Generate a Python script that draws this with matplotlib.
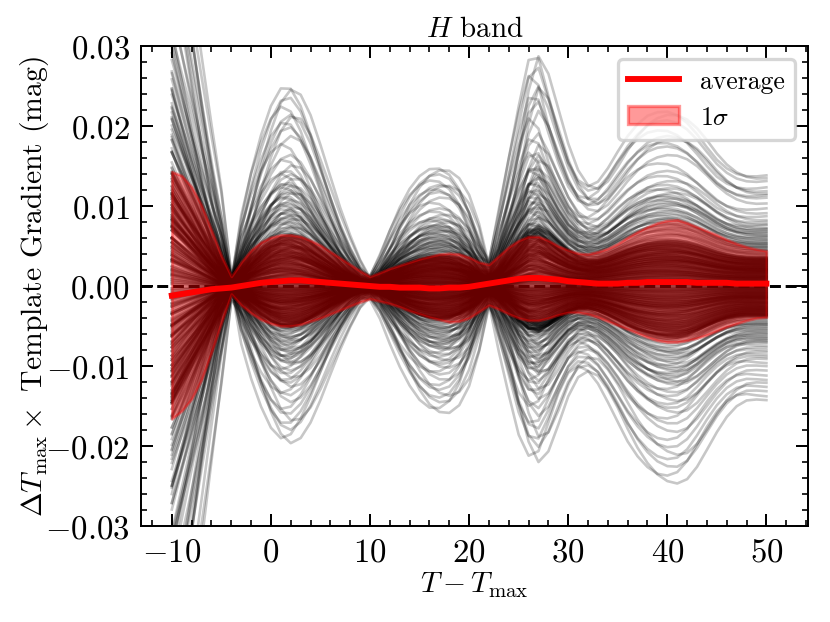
import numpy as np
import matplotlib
matplotlib.use("Agg")
import matplotlib.pyplot as plt
from matplotlib.lines import Line2D
from matplotlib.patches import Patch
from matplotlib.ticker import MultipleLocator

# phase grid (days from maximum)
phase = list(range(-10, 51))

# template gradient of the largest "upper" and "lower" curves (mag), one value per day
profile_up = [0.052, 0.043, 0.034, 0.025, 0.0165, 0.0085, 0.0011, 0.0065, 0.0125, 0.0175,
              0.0215, 0.0242, 0.0248, 0.0232, 0.0200, 0.0160, 0.0120, 0.0082, 0.0050, 0.0024,
              0.0012, 0.0030, 0.0060, 0.0090, 0.0115, 0.0133, 0.0144, 0.0147, 0.0142, 0.0127,
              0.0100, 0.0062, 0.0030, 0.0075, 0.0140, 0.0205, 0.0270, 0.0288, 0.0250, 0.0205,
              0.0165, 0.0138, 0.0126, 0.0128, 0.0142, 0.0162, 0.0182, 0.0198, 0.0210, 0.0216,
              0.0218, 0.0215, 0.0207, 0.0194, 0.0178, 0.0162, 0.0150, 0.0142, 0.0138, 0.0137,
              0.0138]
profile_dn = [-0.058, -0.048, -0.038, -0.028, -0.018, -0.0085, -0.0011, -0.0050, -0.0095, -0.0135,
              -0.0168, -0.0190, -0.0195, -0.0183, -0.0160, -0.0130, -0.0098, -0.0068, -0.0042, -0.0022,
              -0.0016, -0.0030, -0.0058, -0.0088, -0.0115, -0.0137, -0.0152, -0.0158, -0.0155, -0.0140,
              -0.0110, -0.0065, -0.0025, -0.0060, -0.0110, -0.0165, -0.0205, -0.0218, -0.0195, -0.0160,
              -0.0128, -0.0110, -0.0108, -0.0118, -0.0138, -0.0162, -0.0188, -0.0210, -0.0227, -0.0239,
              -0.0245, -0.0245, -0.0236, -0.0218, -0.0196, -0.0175, -0.0158, -0.0147, -0.0142, -0.0142,
              -0.0143]

# per-object scale (relative to the profile) and timing offset (days)
amp_up = [1.00, 0.98, 0.95, 0.89, 0.86, 0.84, 0.82, 0.80, 0.75, 0.70,
          0.66, 0.63, 0.60, 0.58, 0.56, 0.55, 0.53, 0.52, 0.51, 0.50,
          0.49, 0.48, 0.47, 0.46, 0.45, 0.44, 0.43, 0.42, 0.41, 0.40,
          0.39, 0.385, 0.38, 0.37, 0.36, 0.355, 0.35, 0.34, 0.33, 0.325,
          0.32, 0.31, 0.30, 0.295, 0.29, 0.28, 0.27, 0.265, 0.26, 0.255,
          0.25, 0.245, 0.24, 0.235, 0.23, 0.225, 0.22, 0.215, 0.21, 0.205,
          0.20, 0.195, 0.19, 0.185, 0.18, 0.175, 0.17, 0.165, 0.16, 0.155,
          0.15, 0.145, 0.14, 0.135, 0.13, 0.125, 0.12, 0.115, 0.11, 0.105,
          0.10, 0.095, 0.09, 0.085, 0.08, 0.075, 0.07, 0.065, 0.06, 0.055,
          0.05, 0.045, 0.04, 0.035, 0.03, 0.025, 0.02, 0.015, 0.01, 0.005]
shift_up = [0.3, -0.5, 0.1, 0.6, -0.2, -0.7, 0.4, 0.0, -0.4, 0.7,
            -0.1, 0.5, -0.6, 0.2, -0.3, 0.8, -0.8, 0.1, 0.4, -0.5,
            0.6, -0.2, 0.0, -0.7, 0.3, 0.5, -0.4, 0.2, -0.1, 0.7,
            -0.6, 0.4, -0.3, 0.1, 0.6, -0.5, 0.0, 0.3, -0.8, 0.5,
            -0.2, 0.7, -0.4, 0.2, -0.6, 0.1, 0.4, -0.1, 0.6, -0.3,
            0.0, 0.5, -0.7, 0.3, -0.2, 0.8, -0.5, 0.1, 0.4, -0.4,
            0.2, -0.6, 0.6, -0.1, 0.3, -0.3, 0.7, -0.5, 0.0, 0.5,
            -0.2, 0.4, -0.7, 0.1, 0.6, -0.4, 0.2, -0.1, 0.3, -0.6,
            0.5, 0.0, -0.3, 0.7, -0.5, 0.2, 0.4, -0.8, 0.1, -0.2,
            0.6, -0.4, 0.3, -0.1, 0.5, -0.6, 0.0, 0.2, -0.3, 0.4]
amp_dn = [1.00, 0.96, 0.92, 0.88, 0.85, 0.82, 0.78, 0.74, 0.70, 0.67,
          0.64, 0.62, 0.60, 0.58, 0.56, 0.54, 0.52, 0.50, 0.49, 0.48,
          0.47, 0.46, 0.45, 0.44, 0.43, 0.42, 0.41, 0.40, 0.39, 0.38,
          0.37, 0.36, 0.35, 0.34, 0.335, 0.33, 0.32, 0.31, 0.30, 0.29,
          0.28, 0.275, 0.27, 0.265, 0.26, 0.255, 0.25, 0.245, 0.24, 0.235,
          0.23, 0.225, 0.22, 0.215, 0.21, 0.205, 0.20, 0.195, 0.19, 0.185,
          0.18, 0.175, 0.17, 0.165, 0.16, 0.155, 0.15, 0.145, 0.14, 0.135,
          0.13, 0.125, 0.12, 0.115, 0.11, 0.105, 0.10, 0.095, 0.09, 0.085,
          0.08, 0.075, 0.07, 0.065, 0.06, 0.055, 0.05, 0.045, 0.04, 0.035,
          0.03, 0.025, 0.02, 0.015, 0.01, 0.005]
shift_dn = [-0.4, 0.6, -0.1, 0.3, -0.7, 0.2, 0.5, -0.3, 0.0, 0.7,
            -0.5, 0.1, 0.4, -0.6, 0.3, -0.2, 0.8, -0.4, 0.1, -0.8,
            0.5, -0.1, 0.2, 0.6, -0.5, 0.0, -0.3, 0.7, -0.6, 0.4,
            0.1, -0.2, 0.5, -0.7, 0.3, 0.0, -0.4, 0.6, -0.1, 0.2,
            -0.5, 0.8, -0.3, 0.4, -0.6, 0.1, 0.3, -0.2, 0.7, -0.4,
            0.0, 0.5, -0.8, 0.2, -0.1, 0.6, -0.3, 0.4, -0.5, 0.1,
            0.3, -0.6, 0.7, -0.2, 0.0, 0.5, -0.4, 0.2, -0.7, 0.6,
            -0.1, 0.3, -0.5, 0.4, 0.1, -0.3, 0.8, -0.6, 0.2, 0.0,
            -0.2, 0.5, -0.4, 0.6, -0.1, 0.3, -0.7, 0.1, 0.4, -0.5,
            0.2, -0.3, 0.5, 0.0, -0.2, 0.3]

# the many small-amplitude objects inside the 1-sigma band (sign picks the profile)
core_amp = [0.250, -0.240, 0.010, -0.020, 0.180, -0.150, 0.090, -0.060, 0.230, -0.210,
            0.040, -0.110, 0.140, -0.250, 0.070, -0.030, 0.200, -0.180, 0.120, -0.080,
            0.220, -0.130, 0.030, -0.230, 0.160, -0.050, 0.100, -0.200, 0.060, -0.140,
            0.190, -0.010, 0.080, -0.170, 0.240, -0.090, 0.130, -0.260, 0.020, -0.120,
            0.170, -0.070, 0.210, -0.190, 0.050, -0.040, 0.150, -0.220, 0.110, -0.100,
            0.255, -0.245, 0.015, -0.025, 0.185, -0.155, 0.095, -0.065, 0.235, -0.215,
            0.045, -0.115, 0.145, -0.255, 0.075, -0.035, 0.205, -0.185, 0.125, -0.085,
            0.225, -0.135, 0.035, -0.235, 0.165, -0.055, 0.105, -0.205, 0.065, -0.145,
            0.195, -0.015, 0.085, -0.175, 0.245, -0.095, 0.135, -0.265, 0.025, -0.125,
            0.175, -0.075, 0.215, -0.195, 0.055, -0.045, 0.155, -0.225, 0.115, -0.105,
            0.260, -0.250, 0.005, -0.030, 0.170, -0.160, 0.085, -0.070, 0.240, -0.200,
            0.035, -0.105, 0.150, -0.245, 0.080, -0.020, 0.195, -0.175, 0.130, -0.090,
            0.215, -0.140, 0.025, -0.220, 0.155, -0.060, 0.110, -0.210, 0.070, -0.150,
            0.185, -0.005, 0.090, -0.165, 0.230, -0.100, 0.140, -0.255, 0.030, -0.110,
            0.165, -0.080, 0.205, -0.190, 0.060, -0.050, 0.145, -0.230, 0.120, -0.095]
core_shift = [0.2, -0.6, 0.5, -0.1, 0.7, -0.4, 0.0, 0.3, -0.7, 0.4,
              -0.3, 0.6, -0.5, 0.1, 0.8, -0.2, 0.4, -0.8, 0.2, -0.1,
              0.5, -0.4, 0.3, -0.6, 0.0, 0.7, -0.3, 0.1, -0.5, 0.6,
              -0.7, 0.2, -0.2, 0.5, -0.4, 0.3, 0.8, -0.1, 0.4, -0.6,
              0.1, -0.3, 0.6, -0.8, 0.2, 0.0, -0.5, 0.7, -0.2, 0.3,
              -0.4, 0.5, 0.0, 0.6, -0.7, 0.2, -0.1, 0.4, 0.3, -0.5,
              0.7, -0.2, 0.1, -0.6, 0.5, -0.3, 0.8, 0.0, -0.4, 0.2,
              -0.1, 0.4, -0.8, 0.3, 0.6, -0.5, 0.2, -0.7, 0.1, 0.5,
              0.0, -0.6, 0.7, -0.2, -0.4, 0.6, -0.3, 0.5, -0.1, 0.8,
              0.3, -0.7, 0.4, 0.1, -0.5, 0.2, 0.6, -0.4, 0.0, -0.2,
              -0.5, 0.1, -0.3, 0.7, 0.2, -0.6, 0.4, -0.1, 0.5, -0.8,
              0.6, 0.0, -0.4, 0.3, -0.2, 0.8, -0.7, 0.2, -0.5, 0.1,
              -0.2, 0.7, 0.1, -0.5, 0.4, -0.1, 0.3, -0.6, 0.6, 0.0,
              0.4, -0.3, 0.8, -0.4, 0.0, 0.5, -0.2, 0.1, -0.7, 0.3,
              -0.6, 0.2, -0.1, 0.6, -0.3, 0.4, 0.0, -0.5, 0.7, -0.4]

# average and 1-sigma band, one value per day
band_mean = [-0.0012, -0.0010, -0.0008, -0.0006, -0.0004, -0.0003, -0.0002, 0.0000, 0.0002, 0.0004,
             0.0005, 0.0006, 0.0007, 0.0007, 0.0006, 0.0005, 0.0004, 0.0003, 0.0002, 0.0001,
             0.0000, -0.0001, -0.0001, -0.0002, -0.0002, -0.0002, -0.0003, -0.0003, -0.0002, -0.0002,
             -0.0001, 0.0001, 0.0003, 0.0005, 0.0007, 0.0009, 0.0010, 0.0010, 0.0009, 0.0008,
             0.0006, 0.0005, 0.0004, 0.0003, 0.0003, 0.0003, 0.0004, 0.0004, 0.0005, 0.0005,
             0.0005, 0.0005, 0.0005, 0.0004, 0.0004, 0.0004, 0.0004, 0.0003, 0.0003, 0.0003,
             0.0003]
band_hi = [0.0143, 0.0138, 0.0124, 0.0101, 0.0070, 0.0038, 0.0012, 0.0030, 0.0045, 0.0055,
           0.0061, 0.0064, 0.0064, 0.0062, 0.0057, 0.0051, 0.0043, 0.0035, 0.0027, 0.0019,
           0.0012, 0.0017, 0.0022, 0.0026, 0.0030, 0.0034, 0.0037, 0.0040, 0.0041, 0.0040,
           0.0036, 0.0030, 0.0027, 0.0038, 0.0049, 0.0057, 0.0062, 0.0062, 0.0057, 0.0050,
           0.0045, 0.0041, 0.0040, 0.0043, 0.0047, 0.0053, 0.0061, 0.0068, 0.0074, 0.0079,
           0.0082, 0.0083, 0.0079, 0.0074, 0.0069, 0.0064, 0.0058, 0.0053, 0.0049, 0.0046,
           0.0044]
band_lo = [-0.0166, -0.0156, -0.0141, -0.0117, -0.0083, -0.0046, -0.0010, -0.0024, -0.0034, -0.0042,
           -0.0047, -0.0050, -0.0050, -0.0048, -0.0044, -0.0040, -0.0035, -0.0030, -0.0025, -0.0020,
           -0.0016, -0.0019, -0.0022, -0.0026, -0.0031, -0.0035, -0.0039, -0.0042, -0.0045, -0.0044,
           -0.0040, -0.0032, -0.0024, -0.0029, -0.0035, -0.0040, -0.0043, -0.0043, -0.0040, -0.0036,
           -0.0033, -0.0033, -0.0035, -0.0039, -0.0044, -0.0049, -0.0054, -0.0059, -0.0064, -0.0068,
           -0.0070, -0.0070, -0.0068, -0.0065, -0.0061, -0.0056, -0.0051, -0.0047, -0.0043, -0.0040,
           -0.0039]

plt.rcParams.update({
    "font.family": "serif",
    "font.serif": ["cmr10"],
    "mathtext.fontset": "cm",
    "axes.formatter.use_mathtext": True,
    "font.size": 9,
    "xtick.labelsize": 10,
    "ytick.labelsize": 10,
    "axes.linewidth": 0.6,
    "xtick.direction": "in",
    "ytick.direction": "in",
    "xtick.top": True,
    "ytick.right": True,
    "xtick.minor.visible": True,
    "ytick.minor.visible": True,
    "xtick.major.size": 3.5,
    "ytick.major.size": 3.5,
    "xtick.minor.size": 1.8,
    "ytick.minor.size": 1.8,
    "xtick.major.width": 0.6,
    "ytick.major.width": 0.6,
    "xtick.minor.width": 0.5,
    "ytick.minor.width": 0.5,
})

fig = plt.figure(figsize=(3.5, 2.627), dpi=237.15)
ax = fig.add_axes([0.170, 0.154, 0.8035, 0.7706])

t = np.array(phase)
p_up = np.array(profile_up)
p_dn = np.array(profile_dn)
dp_up = np.gradient(p_up)
dp_dn = np.gradient(p_dn)

ax.axhline(0, color="k", ls="--", lw=0.9, zorder=1)

line_kw = dict(color="k", alpha=0.22, lw=0.8, zorder=2)
for k, s in zip(amp_up, shift_up):
    ax.plot(t, k * (p_up + s * dp_up), **line_kw)
for k, s in zip(amp_dn, shift_dn):
    ax.plot(t, k * (p_dn + s * dp_dn), **line_kw)
for k, s in zip(core_amp, core_shift):
    if k >= 0:
        ax.plot(t, k * (p_up + s * dp_up), **line_kw)
    else:
        ax.plot(t, -k * (p_dn + s * dp_dn), **line_kw)

ax.fill_between(t, band_lo, band_hi, color="red", alpha=0.4, lw=0.8, zorder=3)
ax.plot(t, band_mean, color="red", lw=1.8, zorder=4)

handles = [Line2D([], [], color="red", lw=1.8),
           Patch(facecolor="red", edgecolor="red", alpha=0.4)]
ax.legend(handles, ["average", r"1$\sigma$"], loc="upper right", fontsize=7.8)

ax.set_xlim(-13.1, 54.2)
ax.set_ylim(-0.03, 0.03)
ax.xaxis.set_major_locator(MultipleLocator(10))
ax.xaxis.set_minor_locator(MultipleLocator(2))
ax.yaxis.set_major_locator(MultipleLocator(0.01))
ax.yaxis.set_minor_locator(MultipleLocator(0.002))

ax.set_title(r"$H$ band", pad=3, fontsize=8.8)
ax.set_xlabel(r"$T - T_{\rm max}$", labelpad=1)
ax.set_ylabel(r"$\Delta T_{\rm max}\times$ Template Gradient (mag)")
ax.yaxis.set_label_coords(-0.135, 0.5)

fig.savefig("out.png", dpi=237.15)
